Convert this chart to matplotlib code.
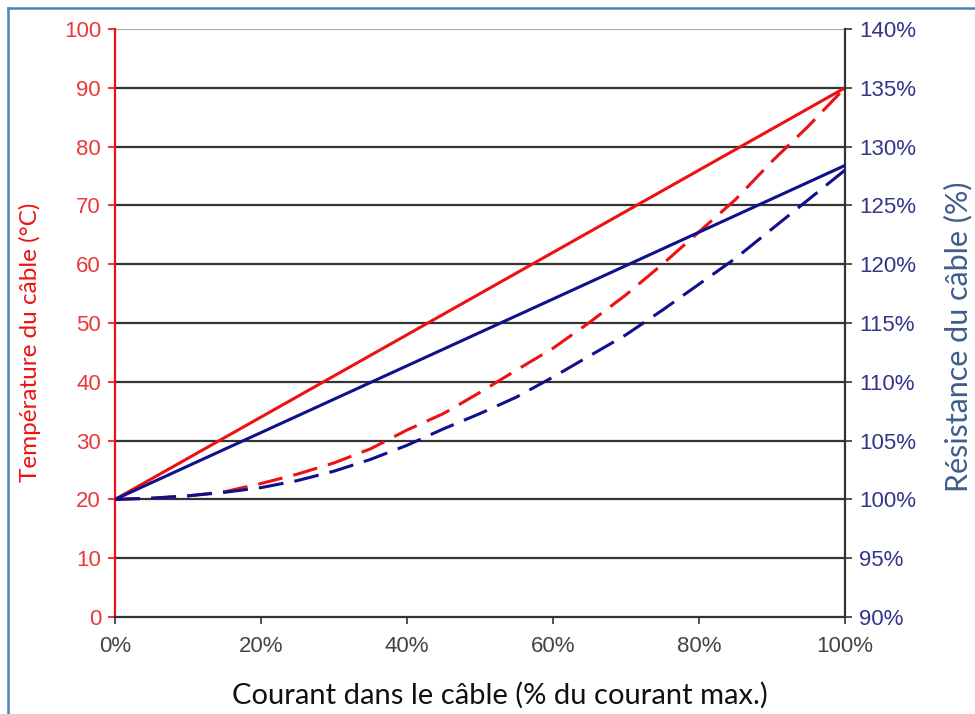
import matplotlib
matplotlib.use("Agg")
import matplotlib.pyplot as plt
from matplotlib.lines import Line2D
from matplotlib.ticker import FuncFormatter

# ---- data ----
courant = [0, 5, 10, 15, 20, 25, 30, 35, 40, 45, 50,
           55, 60, 65, 70, 75, 80, 85, 90, 95, 100]          # % of max current
temp_solid = [20, 90]                                        # °C at 0% and 100%
temp_solid_x = [0, 100]
temp_dashed = [20, 20.2, 20.6, 21.3, 22.7, 24.3, 26.2, 28.6, 31.8, 34.6, 38.2,
               42, 45.7, 50.1, 54.8, 60, 65.5, 71, 77.5, 83.5, 90]
res_solid = [100, 128.4]                                     # % at 0% and 100%
res_solid_x = [0, 100]
res_dashed = [100, 100.1, 100.3, 100.6, 101, 101.6, 102.4, 103.4, 104.6, 106, 107.3,
              108.7, 110.4, 112.2, 114, 116.1, 118.3, 120.5, 123, 125.5, 128]

x_ticks = [0, 20, 40, 60, 80, 100]
left_ticks = list(range(0, 101, 10))
right_ticks = list(range(90, 141, 5))

TICK_FONT = "Liberation Sans"
LABEL_FONT = "Lato"

plt.rcParams['lines.scale_dashes'] = False

fig = plt.figure(figsize=(9.75, 7.14), dpi=100)
ax = fig.add_axes([115/975, 1-617/714, 730/975, 588/714])
ax2 = ax.twinx()

RED = "#EE1111"
NAVY = "#10108C"

ax.set_xlim(0, 100)
ax.set_ylim(0, 100)
ax2.set_ylim(90, 140)

for v in left_ticks[1:]:
    col = "#AAAAAA" if v == 100 else "#333333"
    ax.axhline(v, color=col, lw=1.6, zorder=1)

ax.plot(temp_solid_x, temp_solid, color=RED, lw=2.2, zorder=3)
ax.plot(courant, temp_dashed, color=RED, lw=2.2, dashes=(18, 8), zorder=3)
ax2.plot(res_solid_x, res_solid, color=NAVY, lw=2.2, zorder=3)
ax2.plot(courant, res_dashed, color=NAVY, lw=2.2, dashes=(18, 8), zorder=3)

ax.set_xticks(x_ticks)
ax.xaxis.set_major_formatter(FuncFormatter(lambda v, p: f"{int(v)}%"))
ax.set_yticks(left_ticks)
ax2.set_yticks(right_ticks)
ax2.yaxis.set_major_formatter(FuncFormatter(lambda v, p: f"{int(v)}%"))

for a in (ax, ax2):
    for s in a.spines.values():
        s.set_visible(False)
ax.spines['left'].set_visible(True)
ax.spines['left'].set_color(RED)
ax.spines['left'].set_linewidth(1.6)
ax.spines['bottom'].set_visible(True)
ax.spines['bottom'].set_color("#333333")
ax.spines['bottom'].set_linewidth(1.6)
ax2.spines['right'].set_visible(True)
ax2.spines['right'].set_color("#333333")
ax2.spines['right'].set_linewidth(1.6)

ax.tick_params(axis='y', colors=RED, labelcolor="#E83A3A", direction='out', length=5,
               width=1.2, labelsize=16, pad=5)
ax.tick_params(axis='x', colors="#333333", direction='out', length=5, width=1.2,
               labelsize=16, pad=9, labelcolor="#444444")
ax2.tick_params(axis='y', colors="#333333", labelcolor="#34348A", direction='out',
                length=5, width=1.2, labelsize=16, pad=5)
for lab in ax.get_xticklabels() + ax.get_yticklabels() + ax2.get_yticklabels():
    lab.set_fontfamily(TICK_FONT)

ax.set_xlabel("Courant dans le câble (% du courant max.)", fontsize=21,
              family=LABEL_FONT, color="#111111", va='center')
ax.xaxis.set_label_coords((500-115)/730, (617-695)/588)
ax.set_ylabel("Température du câble (°C)", fontsize=17.5, family=LABEL_FONT,
              color=RED, va='center')
ax.yaxis.set_label_coords((30-115)/730, (617-342)/588)
ax2.set_ylabel("Résistance du câble (%)", fontsize=22, family=LABEL_FONT,
               color="#3F5E8A", va='center', rotation=90)
ax2.yaxis.set_label_coords((958-115)/730, (617-337)/588)

# frame border (top and left visible)
fig.add_artist(Line2D([8/975, 8/975], [0, 1-8/714], transform=fig.transFigure,
                      color="#4F81BD", lw=1.8))
fig.add_artist(Line2D([8/975, 1], [1-8/714, 1-8/714], transform=fig.transFigure,
                      color="#4F81BD", lw=1.8))

fig.savefig("out.png", dpi=100)
